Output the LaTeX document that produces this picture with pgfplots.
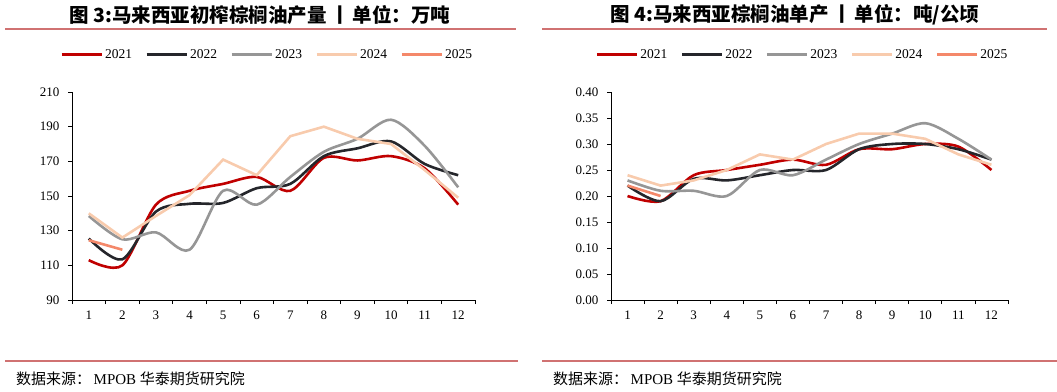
\documentclass[border=0pt]{standalone}
\usepackage{fontspec}
\setmainfont{Liberation Serif}
\newfontfamily\cjk{Noto Sans CJK SC}
\usepackage{pgfplots}
\pgfplotsset{compat=1.18}
\definecolor{c21}{HTML}{C00000}
\definecolor{c22}{HTML}{25262B}
\definecolor{c23}{HTML}{969696}
\definecolor{c24}{HTML}{F8CBAD}
\definecolor{c25}{HTML}{F4886A}
\definecolor{rl}{HTML}{D07272}
\pgfplotsset{mystyle/.style={
  scale only axis, height=208pt, xmin=0.5, xmax=12.5,
  axis x line*=bottom, axis y line*=left,
  axis line style={line width=1pt,-},
  xtick={1,...,12}, major x tick style={draw=none},
  minor xtick={0.5,1.5,...,12.5},
  tick align=outside, major tick length=4pt, minor tick length=4pt,
  tick style={black, line width=0.8pt},
  ticklabel style={font=\fontsize{13}{13}\selectfont},
  xticklabel style={yshift=-3pt},
  yticklabel style={xshift=-5pt},
  /pgf/number format/assume math mode=true,
  legend columns=5,
  legend style={draw=none, fill=none, inner sep=0pt, font=\fontsize{13.5}{13.5}\selectfont,
     /tikz/every even column/.append style={column sep=11pt}},
  legend image code/.code={\draw[#1, line width=3pt] (0pt,0pt) -- (40pt,0pt);},
  every axis plot/.append style={line width=2.6pt},
}}
\begin{document}
\begin{tikzpicture}
\useasboundingbox (0pt,0pt) rectangle (1057pt,391pt);
% titles
\node[font=\cjk\bfseries\fontsize{19.5}{19.5}\selectfont] at (260pt,376pt) {图 3:马来西亚初榨棕榈油产量\,丨\,单位：万吨};
\node[font=\cjk\bfseries\fontsize{19.5}{19.5}\selectfont] at (795pt,376pt) {图 4:马来西亚棕榈油单产\,丨\,单位：吨/公顷};
\draw[rl, line width=1.5pt] (5pt,362pt) -- (516pt,362pt);
\draw[rl, line width=1.5pt] (542pt,362pt) -- (1047pt,362pt);
\draw[rl, line width=1.5pt] (5pt,30pt) -- (518pt,30pt);
\draw[rl, line width=1.5pt] (542pt,30pt) -- (1057pt,30pt);
\node[anchor=west, inner sep=0pt, font=\fontsize{15}{15}\selectfont] at (16pt,12pt) {\cjk 数据来源：\,\rmfamily MPOB \cjk 华泰期货研究院};
\node[anchor=west, inner sep=0pt, font=\fontsize{15}{15}\selectfont] at (553pt,12pt) {\cjk 数据来源：\,\rmfamily MPOB \cjk 华泰期货研究院};

\begin{axis}[mystyle, at={(72pt,91pt)}, anchor=south west, width=403pt,
  ymin=90, ymax=210, ytick={90,110,...,210},
  legend style={at={(-0.03,1.178)}, anchor=west}]
\addplot[c21, smooth] coordinates {(1,113)(2,110)(3,145)(4,153)(5,157)(6,161)(7,153)(8,172)(9,170.5)(10,173)(11,166)(12,145)};
\addplot[c22, smooth] coordinates {(1,125.5)(2,113.5)(3,141)(4,145.5)(5,146)(6,154.5)(7,157)(8,173)(9,177.5)(10,181.5)(11,168.5)(12,162)};
\addplot[c23, smooth] coordinates {(1,138.5)(2,125)(3,129)(4,119)(5,153)(6,145)(7,161)(8,175.5)(9,183)(10,194)(11,179)(12,155)};
\addplot[c24] coordinates {(1,140)(2,126)(3,138.5)(4,150.5)(5,171)(6,162)(7,184.5)(8,190)(9,183)(10,180)(11,165)(12,149)};
\addplot[c25] coordinates {(1,124.5)(2,119)};
\legend{2021,2022,2023,2024,2025}
\end{axis}

\begin{axis}[mystyle, at={(611pt,91pt)}, anchor=south west, width=397pt,
  ymin=0, ymax=0.4, ytick={0,0.05,...,0.41},
  yticklabel style={/pgf/number format/.cd, fixed, fixed zerofill, precision=2},
  legend style={at={(-0.04,1.178)}, anchor=west}]
\addplot[c21, smooth] coordinates {(1,0.20)(2,0.19)(3,0.24)(4,0.25)(5,0.26)(6,0.27)(7,0.26)(8,0.29)(9,0.29)(10,0.30)(11,0.295)(12,0.25)};
\addplot[c22, smooth] coordinates {(1,0.22)(2,0.19)(3,0.233)(4,0.23)(5,0.24)(6,0.25)(7,0.25)(8,0.29)(9,0.30)(10,0.30)(11,0.29)(12,0.27)};
\addplot[c23, smooth] coordinates {(1,0.23)(2,0.21)(3,0.21)(4,0.20)(5,0.25)(6,0.24)(7,0.27)(8,0.30)(9,0.32)(10,0.34)(11,0.31)(12,0.27)};
\addplot[c24] coordinates {(1,0.24)(2,0.22)(3,0.23)(4,0.25)(5,0.28)(6,0.27)(7,0.30)(8,0.32)(9,0.32)(10,0.31)(11,0.28)(12,0.26)};
\addplot[c25] coordinates {(1,0.22)(2,0.20)};
\legend{2021,2022,2023,2024,2025}
\end{axis}
\end{tikzpicture}
\end{document}
